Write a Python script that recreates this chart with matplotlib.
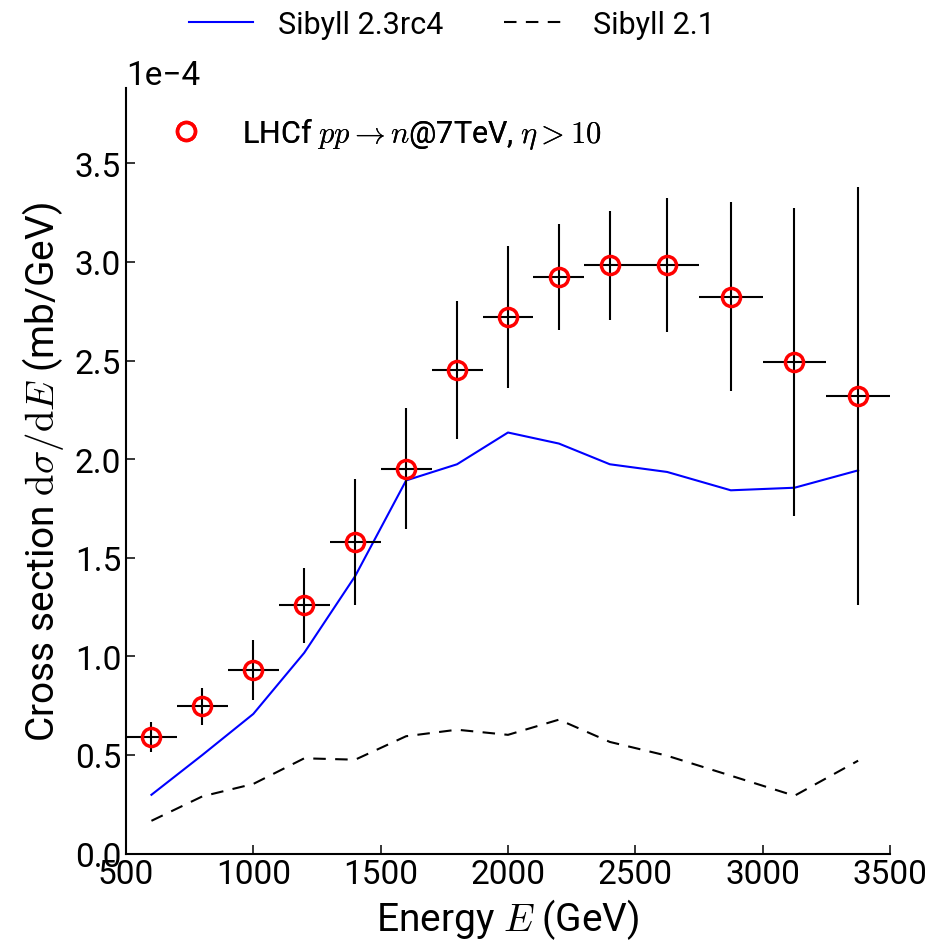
import numpy as np
from matplotlib import pyplot as plt

# LHCf neutron spectrum vs. Sibyll predictions (values in units of 1e-4 mb/GeV)
energy = [600, 800, 1000, 1200, 1400, 1600, 1800, 2000, 2200, 2400, 2625, 2875, 3125, 3375]
e_err = [100, 100, 100, 100, 100, 100, 100, 100, 100, 100, 125, 125, 125, 125]
lhcf = [0.590, 0.747, 0.933, 1.261, 1.580, 1.952, 2.451, 2.723, 2.923, 2.982, 2.982, 2.823, 2.493, 2.321]
lhcf_lo = [0.514, 0.654, 0.778, 1.068, 1.261, 1.647, 2.104, 2.363, 2.654, 2.705, 2.644, 2.344, 1.712, 1.261]
lhcf_hi = [0.669, 0.840, 1.082, 1.449, 1.901, 2.260, 2.801, 3.080, 3.190, 3.260, 3.322, 3.302, 3.272, 3.382]
sib23 = [0.298, 0.500, 0.708, 1.018, 1.407, 1.892, 1.974, 2.135, 2.079, 1.974, 1.935, 1.842, 1.855, 1.943]
sib21 = [0.166, 0.290, 0.353, 0.483, 0.476, 0.595, 0.628, 0.602, 0.679, 0.566, 0.496, 0.395, 0.293, 0.471]

scale = 1e-4

plt.rcParams['font.family'] = ['Roboto', 'DejaVu Sans']
plt.rcParams['mathtext.fontset'] = 'cm'
plt.rcParams['axes.linewidth'] = 1.5

x = np.array(energy)
y = np.array(lhcf) * scale
yerr = np.array([np.array(lhcf) - np.array(lhcf_lo), np.array(lhcf_hi) - np.array(lhcf)]) * scale

fig = plt.figure(figsize=(9.38, 9.53), dpi=100)
ax = fig.add_axes([0.1343, 0.1033, 0.8145, 0.8029])

l1, = ax.plot(x, np.array(sib23) * scale, color='blue', lw=1.5, label='Sibyll 2.3rc4')
l2, = ax.plot(x, np.array(sib21) * scale, color='black', lw=1.5, ls=(0, (6, 4.5)), label='Sibyll 2.1')
ax.errorbar(x, y, xerr=e_err, yerr=yerr, fmt='none', ecolor='black', elinewidth=1.5, capsize=0, zorder=3)
pts, = ax.plot(x, y, 'o', mfc='none', mec='red', ms=13, mew=2.5, zorder=4,
               label=r'LHCf $pp \to n$@7TeV, $\eta > 10$')

ax.set_xlim(500, 3500)
ax.set_ylim(0, 3.88e-4)
ax.set_xticks([500, 1000, 1500, 2000, 2500, 3000, 3500])
ax.set_yticks(np.arange(0, 3.6, 0.5) * scale)
ax.ticklabel_format(axis='y', style='sci', scilimits=(0, 0))
ax.spines['top'].set_visible(False)
ax.spines['right'].set_visible(False)
ax.tick_params(direction='in', length=6.5, width=1.1, labelsize=24, top=False, right=False)
ax.yaxis.get_offset_text().set_fontsize(24)

ax.set_xlabel(r'Energy $E$ (GeV)', fontsize=28)
ax.set_ylabel(r'Cross section $\mathrm{d}\sigma/\mathrm{d}E$ (mb/GeV)', fontsize=28, labelpad=6)

leg1 = ax.legend(handles=[pts], loc='upper left', frameon=False, fontsize=22, numpoints=1,
                 handlelength=2.1, handletextpad=0.8)
ax.add_artist(leg1)
fig.legend(handles=[l1, l2], loc='center', bbox_to_anchor=(452 / 938, 1 - 25 / 953), ncol=2,
           frameon=False, fontsize=22, handlelength=2.1, handletextpad=0.8, columnspacing=2.0)

fig.savefig('out.png', dpi=100)
